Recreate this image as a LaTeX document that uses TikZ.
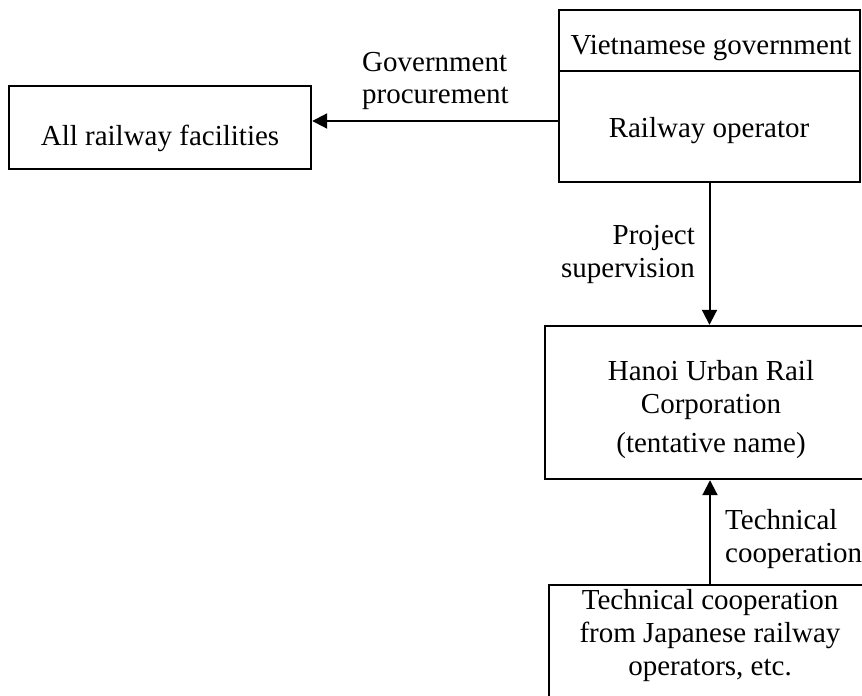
\documentclass[tikz,border=0pt]{standalone}
\usepackage{fontspec}
\setmainfont{Liberation Serif}
\usetikzlibrary{arrows.meta}
\begin{document}
\begin{tikzpicture}[x=1pt,y=-1pt,
  box/.style={draw, line width=2.4pt, inner sep=0pt, rectangle},
  txt/.style={inner sep=0pt, font=\fontsize{29}{33}\selectfont, anchor=base},
  arr/.style={line width=2pt, -{Triangle[length=15pt,width=15pt]}}]
\useasboundingbox (0,0) rectangle (862,696);
\clip (0,0) rectangle (862,696);

% boxes
\node[box, minimum width=301pt, minimum height=61pt]  (gov)   at (709.5,40.5)  {};
\node[box, minimum width=301pt, minimum height=111pt] (op)    at (709.5,126.5) {};
\node[box, minimum width=302pt, minimum height=83pt]  (fac)   at (160,127.5)   {};
\node[box, minimum width=330pt, minimum height=153pt] (hanoi) at (710,402.5)   {};
\node[box, minimum width=322pt, minimum height=140pt] (jp)    at (710,655)     {};

% box texts (multi-line texts are anchored on the baseline of their last line)
\node[txt] (govt)   at (711,54)  {Vietnamese government};
\node[txt] (opt)    at (709,137) {Railway operator};
\node[txt] (fact)   at (160,145) {All railway facilities};
\node[txt, align=center] (hanoit) at (711,452) {Hanoi Urban Rail\\Corporation\\[6pt](tentative name)};
\node[txt, align=center] (jpt)    at (710,675) {Technical cooperation\\from Japanese railway\\operators, etc.};

% connectors
\draw[arr] ([yshift=5.5pt]op.west) coordinate (g) -- (g -| fac.east);
\draw[arr] (op.south) -- (op.south |- hanoi.north);
\draw[arr] (jp.north) -- (jp.north |- hanoi.south);

% connector labels
\node[txt, anchor=base west, align=left]  (procl) at (362,103) {Government\\[-1.5pt]procurement};
\node[txt, anchor=base east, align=right] (supl)  at (695,277) {Project\\supervision};
\node[txt, anchor=base west, align=left]  (tecl)  at (725,562) {Technical\\cooperation};
\end{tikzpicture}
\end{document}
